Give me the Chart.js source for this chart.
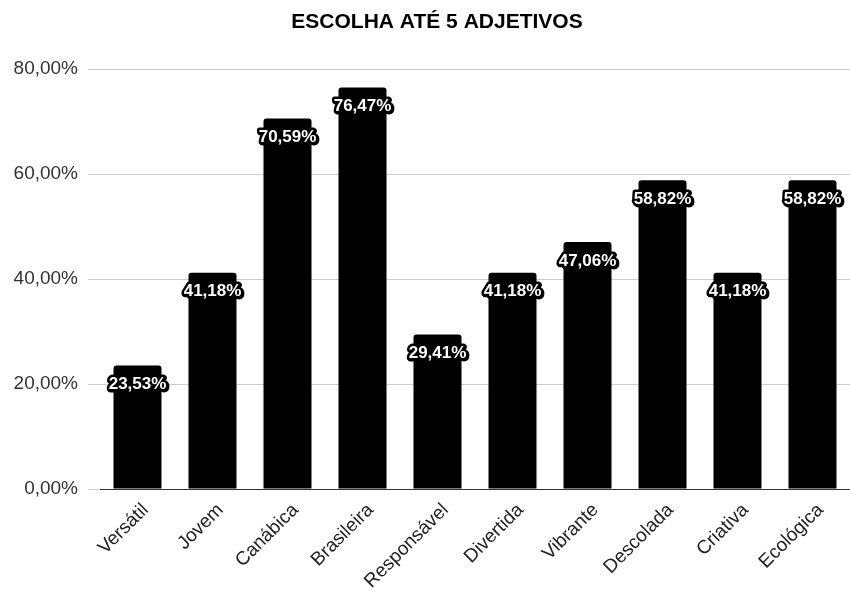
<!DOCTYPE html>
<html>
<head>
<meta charset="utf-8">
<script src="https://cdn.jsdelivr.net/npm/chart.js@4"></script>
<style>
  html, body { margin: 0; padding: 0; background: #fff; }
</style>
</head>
<body>
<canvas id="myChart" width="850" height="593"></canvas>
<script>
const categories = ['Versátil', 'Jovem', 'Canábica', 'Brasileira', 'Responsável', 'Divertida', 'Vibrante', 'Descolada', 'Criativa', 'Ecológica'];
const values = [23.53, 41.18, 70.59, 76.47, 29.41, 41.18, 47.06, 58.82, 41.18, 58.82];
const yTicks = [0, 20, 40, 60, 80];
const titleText = 'ESCOLHA ATÉ 5 ADJETIVOS';

const fmt = v => v.toFixed(2).replace('.', ',') + '%';

// white labels with black outline sitting on the bar tops
const barLabels = {
  id: 'barLabels',
  afterDatasetsDraw(chart) {
    const c = chart.ctx;
    const meta = chart.getDatasetMeta(0);
    c.save();
    c.font = 'bold 17px "Liberation Sans", Arial, sans-serif';
    c.textAlign = 'center';
    c.textBaseline = 'middle';
    c.lineJoin = 'round';
    meta.data.forEach((bar, i) => {
      const t = fmt(values[i]);
      const y = bar.y + 19;
      c.strokeStyle = '#000';
      c.lineWidth = 5;
      c.strokeText(t, bar.x + 1, y + 1);
      c.strokeText(t, bar.x, y);
      c.fillStyle = '#fff';
      c.fillText(t, bar.x, y);
    });
    c.restore();
  },
  afterDraw(chart) {
    const c = chart.ctx;
    c.save();
    c.font = 'bold 21px "Liberation Sans", Arial, sans-serif';
    c.fillStyle = '#000';
    c.textAlign = 'center';
    c.textBaseline = 'middle';
    c.fillText(titleText, 437, 22);
    c.restore();
  }
};

const ctx = document.getElementById('myChart');

new Chart(ctx, {
  type: 'bar',
  data: {
    labels: categories,
    datasets: [{
      data: values,
      backgroundColor: '#000',
      borderRadius: { topLeft: 3, topRight: 3 },
      borderSkipped: false,
      barPercentage: 0.64,
      categoryPercentage: 1
    }]
  },
  plugins: [barLabels],
  options: {
    responsive: false,
    animation: false,
    devicePixelRatio: 1,
    layout: { padding: { top: 69, right: 0, left: 0, bottom: 0 } },
    plugins: {
      legend: { display: false },
      tooltip: { enabled: false },
      title: { display: false }
    },
    scales: {
      x: {
        grid: { display: false, drawTicks: false },
        border: { color: '#333', width: 1 },
        ticks: {
          color: '#222',
          font: { family: '"Liberation Sans", Arial, sans-serif', size: 19 },
          minRotation: 45,
          maxRotation: 45,
          padding: 10,
          labelOffset: 8
        },
        afterFit(scale) { scale.height = 104; }
      },
      y: {
        min: 0,
        max: 80,
        afterBuildTicks(scale) { scale.ticks = yTicks.map(v => ({ value: v })); },
        grid: { color: '#ccc', tickLength: 12 },
        border: { display: false },
        ticks: {
          color: '#333',
          padding: 10,
          font: { family: '"Liberation Sans", Arial, sans-serif', size: 19 },
          callback: v => fmt(v)
        },
        afterFit(scale) { scale.width = 100; }
      }
    }
  }
});
</script>
</body>
</html>
